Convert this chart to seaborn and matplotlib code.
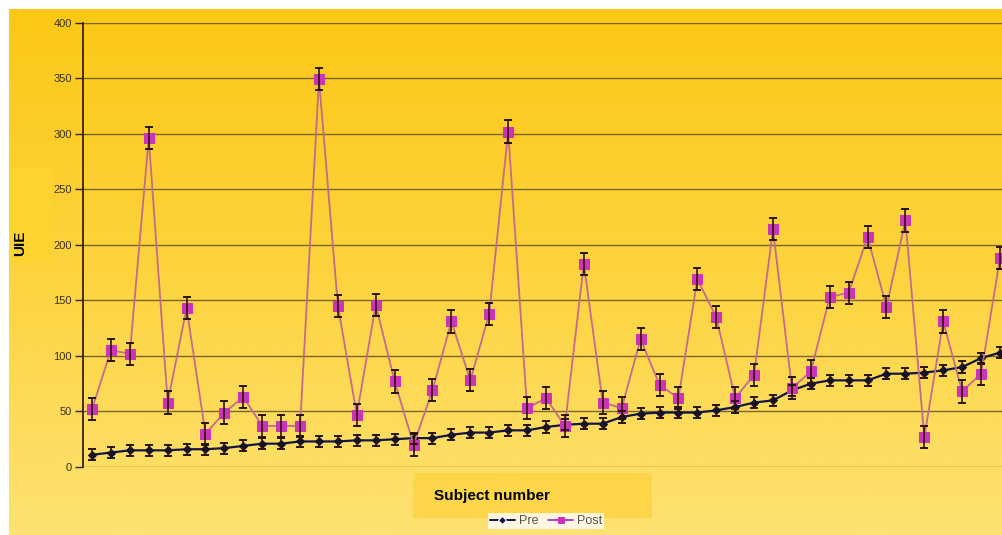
import numpy as np
import pandas as pd
import matplotlib
matplotlib.use("Agg")
import matplotlib.pyplot as plt
from matplotlib.patches import Rectangle
import seaborn as sns

# ---- data ----
subjects = list(range(1, 50))
pre = [11, 13, 15, 15, 15, 16, 16, 17, 19, 21, 21, 23, 23, 23, 24, 24, 25, 26, 26, 29,
       31, 31, 33, 33, 36, 38, 39, 39, 45, 48, 49, 49, 49, 51, 54, 58, 60, 69, 75, 78,
       78, 78, 84, 84, 85, 87, 90, 98, 103]
post = [52, 105, 102, 296, 58, 143, 30, 49, 63, 37, 37, 37, 349, 145, 47, 146, 77, 20, 69, 131,
        78, 138, 302, 53, 62, 37, 183, 58, 53, 115, 74, 62, 169, 135, 62, 83, 214, 71, 86, 153,
        157, 207, 144, 222, 27, 131, 68, 84, 188]
pre_err = 5
post_err = 10
yticks = [0, 50, 100, 150, 200, 250, 300, 350, 400]

df = pd.DataFrame({
    "subject": subjects * 2,
    "UIE": pre + post,
    "series": ["Pre"] * len(pre) + ["Post"] * len(post),
})

sns.set_theme(style="white")
plt.rcParams["font.family"] = ["Liberation Sans", "DejaVu Sans"]

W, H = 1003, 535
fig = plt.figure(figsize=(W / 100, H / 100), dpi=100)
fig.patch.set_facecolor("white")

# gradient background (figure level)
bg = fig.add_axes([9 / W, 0, 1 - 9 / W, (H - 9) / H], zorder=-10)
top = np.array([252, 200, 22]) / 255
mid = np.array([253, 212, 62]) / 255
bot = np.array([253, 226, 115]) / 255
n = 256
t = np.linspace(0, 1, n)[:, None]
grad = np.where(t < 0.5, top + (mid - top) * (t / 0.5), mid + (bot - mid) * ((t - 0.5) / 0.5))
bg.imshow(grad[:, None, :].repeat(4, axis=1), aspect="auto", extent=[0, 1, 0, 1])
bg.set_axis_off()

# label boxes
fig.patches.append(Rectangle((413 / W, 1 - 518 / H), (652 - 413) / W, 45 / H,
                             transform=fig.transFigure, facecolor="#fcd648", edgecolor="none", zorder=-5))
fig.patches.append(Rectangle((9 / W, 1 - 263 / H), (52 - 9) / W, 95 / H,
                             transform=fig.transFigure, facecolor="#fdd330", edgecolor="none", zorder=-5))
fig.text(434 / W, 1 - 496 / H, "Subject number", fontsize=11, fontweight="bold",
         ha="left", va="center", color="black")
fig.text(20 / W, 1 - 243 / H, "UIE", fontsize=11, fontweight="bold", rotation=90,
         ha="center", va="center", color="black")

# main axes
x0, x1 = 83, 1003
y_top, y_bot = 22.7, 467
ax = fig.add_axes([x0 / W, 1 - y_bot / H, (x1 - x0) / W, (y_bot - y_top) / H])
ax.patch.set_alpha(0)

sns.lineplot(data=df, x="subject", y="UIE", hue="series", style="series",
             hue_order=["Pre", "Post"], style_order=["Pre", "Post"],
             palette={"Pre": "#14144a", "Post": "#c46a8c"},
             markers={"Pre": "D", "Post": "s"}, dashes=False,
             markersize=6, linewidth=1.4, ax=ax, zorder=3)
# marker colours
for line in ax.get_lines():
    yd = np.asarray(line.get_ydata())
    if len(yd) == len(post) and np.allclose(yd, post):
        line.set_markerfacecolor("#cc33bb")
        line.set_markeredgecolor("#cc33bb")
        line.set_markersize(6.5)
        line.set_linewidth(1.3)
    elif len(yd) == len(pre) and np.allclose(yd, pre):
        line.set_markerfacecolor("#101030")
        line.set_markeredgecolor("#101030")
        line.set_markersize(4.5)
        line.set_linewidth(1.6)

ax.errorbar(subjects, pre, yerr=pre_err, fmt="none", ecolor="#2a1408",
            elinewidth=1.2, capsize=3, capthick=1.4, zorder=4)
ax.errorbar(subjects, post, yerr=post_err, fmt="none", ecolor="#2a1408",
            elinewidth=1.2, capsize=3, capthick=1.4, zorder=4)

sp = (1000 - 92) / 48
ax.set_xlim(1 - (92 - x0) / sp, 49 + (x1 - 1000) / sp)
ax.set_ylim(0, 400)
ax.set_yticks(yticks)
ax.set_xticks([])
ax.set_xlabel("")
ax.set_ylabel("")
ax.yaxis.grid(True, color="#7a6628", linewidth=1.0)
ax.set_axisbelow(True)
for s in ["top", "right", "bottom"]:
    ax.spines[s].set_visible(False)
ax.spines["left"].set_color("#3a2010")
ax.spines["left"].set_linewidth(1.3)
ax.tick_params(axis="y", direction="out", length=6, width=1, color="#3a2010",
               labelsize=8, labelcolor="#3a3020", pad=2, left=True)

# legend
leg_handles, leg_labels = ax.get_legend_handles_labels()
ax.get_legend().remove()
for h in leg_handles:
    if h.get_label() == "Post":
        h.set_markerfacecolor("#cc33bb"); h.set_markeredgecolor("#cc33bb"); h.set_color("#b040c0")
        h.set_markersize(5)
    else:
        h.set_markersize(4)
leg = fig.legend(leg_handles, leg_labels, loc="lower center",
                 bbox_to_anchor=(546 / W, 0), ncol=2, fontsize=9,
                 frameon=True, facecolor="white", edgecolor="none", fancybox=False,
                 borderpad=0.15, handlelength=2.0, handletextpad=0.3, columnspacing=0.8)
for txt in leg.get_texts():
    txt.set_color("#555555")

fig.savefig("out.png", dpi=100)
